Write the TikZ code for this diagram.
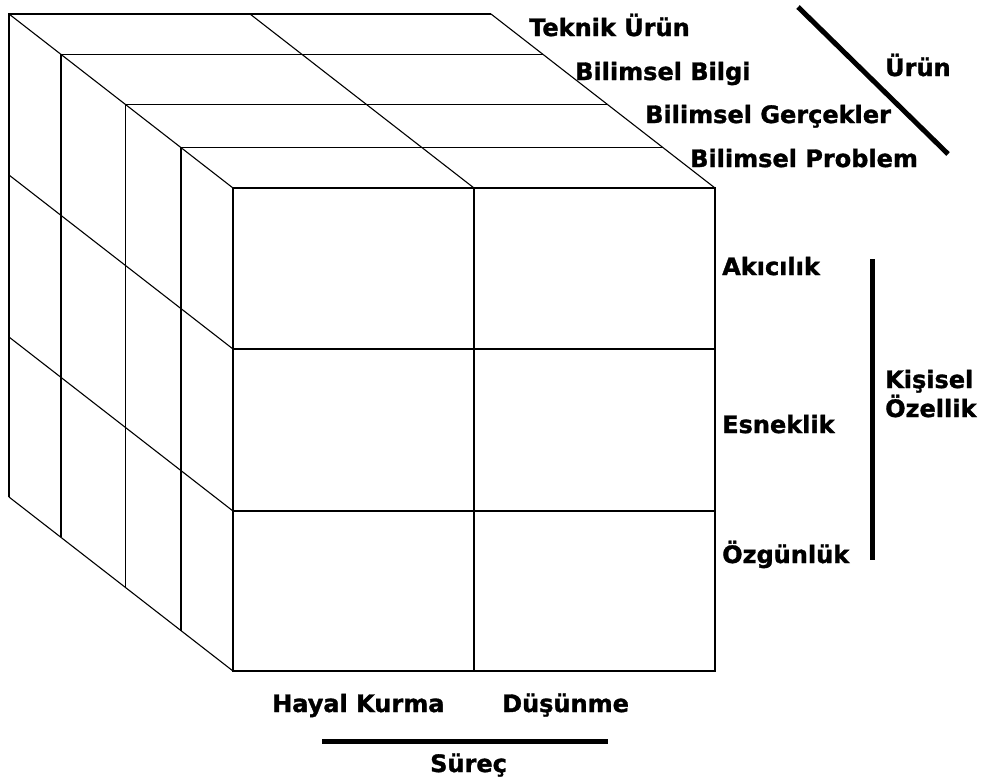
\documentclass[tikz,border=0pt]{standalone}
\usepackage{fontspec}
\setmainfont{DejaVu Sans}[BoldFeatures={FakeBold=1.3}]
\tikzset{
  gridline/.style={line width=1.1pt},
  axisbar/.style={line width=5pt},
  labeltext/.style={font=\fontsize{24}{29}\selectfont\bfseries, anchor=base west, inner sep=0pt},
}
\begin{document}
\begin{tikzpicture}[x=1pt,y=-1pt]
	\useasboundingbox (0,0) rectangle (981,782);
	
	% Draw the layers behind the front face
	\foreach \f in {1,0.768,0.478,0.232} {
		\draw[gridline, shift={(-224*\f,-174*\f)}] (233,671) -- (233,188) -- (715,188);
	}
	
	% Draw the edges going back
	\foreach \x/\y in {233/188, 474/188, 715/188, 233/349, 233/511, 233/671} {
		\draw[gridline] (\x,\y) -- ++(-224,-174);
	}
	
	% Draw the front face
	\draw[gridline] (233,188) rectangle (715,671);
	\draw[gridline] (474,188) -- (474,671);
	\draw[gridline] (233,349) -- (715,349);
	\draw[gridline] (233,511) -- (715,511);
	
	% Draw the labels of the layers
	\node[labeltext] (teknik) at (529,36) {Teknik Ürün};
	\node[labeltext] (bilgi) at (575,80) {Bilimsel Bilgi};
	\node[labeltext] (gercek) at (645,123) {Bilimsel Gerçekler};
	\node[labeltext] (problem) at (690,167) {Bilimsel Problem};
	
	% Draw the labels of the rows
	\node[labeltext] (akicilik) at (722,275) {Akıcılık};
	\node[labeltext] (esneklik) at (722,433) {Esneklik};
	\node[labeltext] (ozgunluk) at (722,563) {Özgünlük};
	
	% Draw the labels of the columns
	\node[labeltext] (hayal) at (272,712) {Hayal Kurma};
	\node[labeltext] (dusunme) at (502,712) {Düşünme};
	
	% Draw the bars and their titles
	\coordinate (uruntop) at (798,7);
	\coordinate (urunbot) at (948,154);
	\draw[axisbar] (uruntop) -- (urunbot);
	\node[labeltext] (urun) at (885,76) {Ürün};
	
	\coordinate (kisitop) at (872,259);
	\coordinate (kisibot) at (872,560);
	\draw[axisbar] (kisitop) -- (kisibot);
	\node[labeltext] (kisisel) at (885,388) {Kişisel};
	\node[labeltext] (ozellik) at (885,417) {Özellik};
	
	\coordinate (sureclft) at (322,741);
	\coordinate (surecrgt) at (608,741);
	\draw[axisbar] (sureclft) -- (surecrgt);
	\node[labeltext] (surec) at (430,772) {Süreç};
\end{tikzpicture}
\end{document}
